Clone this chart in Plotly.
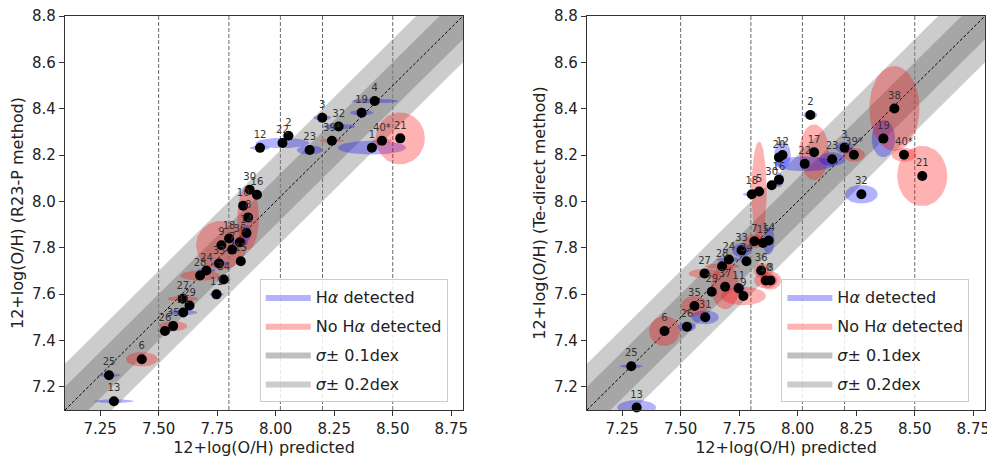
import numpy as np
import plotly.graph_objects as go
from plotly.subplots import make_subplots

# ---------------- data ----------------
left_ids = ["1","2","3","4","6","7","8","9","10","11","12","13","14","15","16","18","19","21","22","23",
            "24","25","26","27","28","29","30","31","32","33","34","35","36","39*","40*"]
left_x = [8.411,8.054,8.199,8.423,7.428,7.814,7.882,7.768,7.861,7.747,7.933,7.309,7.875,7.851,7.920,7.801,8.367,8.532,8.029,8.145,
          7.704,7.288,7.527,7.603,7.677,7.632,7.889,7.605,8.269,7.758,7.778,7.562,7.847,8.240,8.454]
left_y = [8.232,8.283,8.361,8.433,7.319,7.792,7.931,7.811,7.981,7.599,8.231,7.138,7.864,7.742,8.029,7.840,8.383,8.272,8.252,8.222,
          7.702,7.250,7.441,7.580,7.680,7.551,8.050,7.521,8.323,7.732,7.663,7.462,7.824,8.262,8.262]

left_err_ids = ["1","2","3","4","6","8","9","11","12","13","14","19","21","22","23","24","25","26","27","28",
                "31","32","33","34","35","36","39*","40*"]
left_err_halpha = [1,1,1,1,0,0,0,1,1,1,1,1,0,1,1,1,1,1,0,0,
                   1,1,1,1,0,1,0,0]
left_err_dx = [0.146,0.025,0.038,0.100,0.068,0.046,0.108,0.030,0.043,0.084,0.020,0.050,0.105,0.115,0.055,0.040,0.050,0.030,0.067,0.084,
               0.060,0.071,0.035,0.030,0.060,0.035,0.053,0.043]
left_err_dy = [0.030,0.012,0.012,0.010,0.031,0.140,0.105,0.010,0.010,0.008,0.035,0.012,0.112,0.022,0.020,0.010,0.007,0.010,0.012,0.022,
               0.012,0.012,0.012,0.010,0.022,0.015,0.008,0.010]

right_ids = ["2","3","5","6","7","8","9","10","11","12","13","14","15","16","17","18","19","20","21","22",
             "23","24","25","26","27","28","29","30","31","32","33","34","35","36","37","38","39*","40*"]
right_x = [8.054,8.200,7.835,7.431,7.815,7.884,7.768,7.864,7.748,7.935,7.312,7.876,7.852,7.920,8.070,7.804,8.366,7.920,8.532,8.030,
           8.147,7.706,7.289,7.527,7.602,7.677,7.633,7.889,7.605,8.272,7.760,7.781,7.559,7.844,7.690,8.413,8.240,8.454]
right_y = [8.373,8.232,8.043,7.441,7.828,7.659,7.592,7.659,7.625,8.200,7.111,7.831,7.821,8.093,8.212,8.031,8.271,8.190,8.110,8.162,
           8.182,7.749,7.289,7.459,7.689,7.720,7.610,8.070,7.500,8.031,7.789,7.742,7.549,7.702,7.632,8.401,8.201,8.201]

right_err_ids = ["2","3","5","6","7","8","9","10","11","12","13","14","16","17","18","19","21","22","23","24",
                 "25","26","27","28","31","32","33","35","36","37","38","39*","40*"]
right_err_halpha = [1,1,0,0,0,0,0,0,1,1,1,1,1,0,1,1,0,1,1,1,
                    1,1,0,0,1,1,1,0,0,0,0,0,0]
right_err_dx = [0.030,0.037,0.032,0.066,0.047,0.045,0.096,0.050,0.025,0.035,0.083,0.025,0.020,0.063,0.038,0.050,0.107,0.128,0.055,0.053,
                0.050,0.038,0.068,0.075,0.058,0.070,0.040,0.057,0.032,0.060,0.107,0.047,0.053]
right_err_dy = [0.017,0.026,0.215,0.065,0.030,0.040,0.040,0.035,0.025,0.060,0.032,0.060,0.032,0.120,0.010,0.080,0.130,0.032,0.030,0.010,
                0.008,0.020,0.020,0.012,0.030,0.040,0.030,0.043,0.030,0.097,0.183,0.030,0.030]

vlines = [7.50, 7.80, 8.02, 8.20, 8.50]
sigmas = [0.1, 0.2]
axis_min, axis_max = 7.1, 8.8
x_ticks = [7.25, 7.50, 7.75, 8.00, 8.25, 8.50, 8.75]
y_ticks = [7.2, 7.4, 7.6, 7.8, 8.0, 8.2, 8.4, 8.6, 8.8]
y_titles = ["12+log(O/H) (R23-P method)", "12+log(O/H) (Te-direct method)"]
x_title = "12+log(O/H) predicted"

FONT = "DejaVu Sans"
BLUE = "rgba(0,0,255,0.3)"
RED = "rgba(255,0,0,0.3)"
DARK = "rgba(128,128,128,0.5)"
LIGHT = "rgba(128,128,128,0.4)"

fig = make_subplots(rows=1, cols=2, horizontal_spacing=0.135)

panels = [
    (left_ids, left_x, left_y, left_err_ids, left_err_halpha, left_err_dx, left_err_dy, "legend"),
    (right_ids, right_x, right_y, right_err_ids, right_err_halpha, right_err_dx, right_err_dy, "legend2"),
]

theta = np.linspace(0, 2 * np.pi, 72)

for col, (ids, xs, ys, eids, eha, edx, edy, leg) in enumerate(panels, start=1):
    lo, hi = axis_min - 0.5, axis_max + 0.5
    for s, colr, name, rank in [(sigmas[1], LIGHT, "<i>σ</i>± 0.2dex", 4), (sigmas[0], DARK, "<i>σ</i>± 0.1dex", 3)]:
        fig.add_trace(go.Scatter(
            x=[lo, hi, hi, lo, lo], y=[lo + s, hi + s, hi - s, lo - s, lo + s],
            mode="lines", fill="toself", fillcolor=colr, line=dict(width=0),
            name=name, legend=leg, legendrank=rank, legendgroup=f"s{s}{col}",
            hoverinfo="skip"), row=1, col=col)
    fig.add_trace(go.Scatter(x=[axis_min, axis_max], y=[axis_min, axis_max], mode="lines",
                             line=dict(color="black", width=1, dash="3px,2px"),
                             showlegend=False, hoverinfo="skip"), row=1, col=col)
    shown = {1: False, 0: False}
    pos = {k: i for i, k in enumerate(ids)}
    for eid, ha, dx, dy in zip(eids, eha, edx, edy):
        i = pos[eid]
        cx, cy = xs[i], ys[i]
        fig.add_trace(go.Scatter(
            x=cx + dx * np.cos(theta), y=cy + dy * np.sin(theta),
            mode="lines", fill="toself", fillcolor=BLUE if ha else RED, line=dict(width=0),
            name="H<i>α</i> detected" if ha else "No H<i>α</i> detected",
            legendgroup=("b" if ha else "r") + str(col), legend=leg,
            legendrank=1 if ha else 2,
            showlegend=not shown[ha], hoverinfo="skip"), row=1, col=col)
        shown[ha] = True
    fig.add_trace(go.Scatter(
        x=xs, y=ys, mode="markers+text", text=ids, textposition="top center",
        textfont=dict(size=10, color="#333333", family=FONT),
        marker=dict(color="black", size=10), showlegend=False, cliponaxis=False), row=1, col=col)
    for v in vlines:
        fig.add_shape(type="line", x0=v, x1=v, y0=0, y1=1, xref=f"x{'' if col == 1 else col}",
                      yref=f"y{'' if col == 1 else col} domain", layer="below",
                      line=dict(color="rgba(90,90,90,0.9)", width=1, dash="4px,2px"))

axis_common = dict(range=[axis_min, axis_max], showgrid=False, zeroline=False, showline=True, mirror=True,
                   linecolor="#333333", linewidth=1.2, ticks="outside", ticklen=5, tickcolor="#333333",
                   automargin=False, ticklabeloverflow="allow",
                   tickfont=dict(size=15, family=FONT, color="#222222"))
for col in (1, 2):
    fig.update_xaxes(**axis_common, tickvals=x_ticks, ticktext=[f"{t:.2f}" for t in x_ticks],
                     title=dict(text=x_title, font=dict(size=16, family=FONT, color="#222222"), standoff=0),
                     row=1, col=col)
    fig.update_yaxes(**axis_common, tickvals=y_ticks, ticktext=[f"{t:.1f}" for t in y_ticks],
                     title=dict(text=y_titles[col - 1], font=dict(size=16, family=FONT, color="#222222"), standoff=4),
                     row=1, col=col)

leg_common = dict(bgcolor="rgba(255,255,255,0.85)", bordercolor="#cccccc", borderwidth=1,
                  font=dict(size=16, family=FONT, color="#222222"),
                  xanchor="right", yanchor="bottom", y=0.02, tracegroupgap=5, itemwidth=45,
                  traceorder="grouped")
# page body has an 8px default margin; the figure is sized so the whole page is 995x457
fig.update_layout(
    width=987, height=449,
    margin=dict(l=57, r=10, t=8, b=47, autoexpand=False),
    paper_bgcolor="white", plot_bgcolor="white",
    font=dict(family=FONT),
    legend=dict(**leg_common, x=0.416),
    legend2=dict(**leg_common, x=0.983),
)
fig.update_xaxes(domain=[0, 0.4326], row=1, col=1)
fig.update_xaxes(domain=[0.5674, 1.0], row=1, col=2)

fig.write_html("out.html")
